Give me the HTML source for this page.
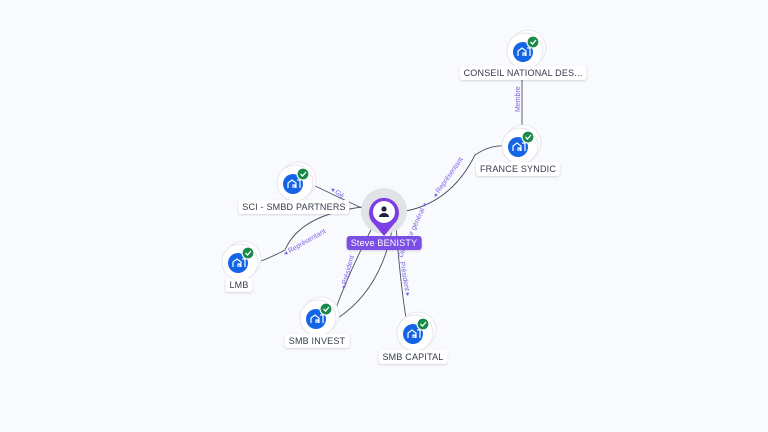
<!DOCTYPE html>
<html><head><meta charset="utf-8"><style>
body{margin:0;width:768px;height:432px;background:#f8fafd;overflow:hidden;font-family:"Liberation Sans",sans-serif}
.lbl{position:absolute;background:#fff;color:#333a4a;font-size:9px;padding:2px 4px;border-radius:3px;box-shadow:0 1px 2px rgba(0,0,0,.15);transform:translateX(-50%);white-space:nowrap;letter-spacing:.2px}
</style></head><body>
<svg width="768" height="432" style="position:absolute;left:0;top:0">
<defs>
<g id="n">
<circle cx="3" cy="-3" r="18" fill="#fff" stroke="#e6e8ee"/>
<circle cx="0" cy="0" r="18" fill="#fff" stroke="#e3e5ea"/>
<circle cx="-2" cy="1" r="10" fill="#1464e6"/>
<path d="M-7 5 v-5 l4-3 4 3 v5 M-2 5 v-3 h2 v3 M2 -3 h3 v8" fill="none" stroke="#fff" stroke-width="1.2"/>
<circle cx="8" cy="-9" r="6" fill="#1a8a4a" stroke="#fff" stroke-width="1.2"/>
<path d="M5.5 -9 l2 2 3.5-4" fill="none" stroke="#fff" stroke-width="1.3"/>
</g>
</defs>
<g fill="none" stroke="#4b4f63" stroke-width="0.9">
<path d="M522 70 V126"/>
<path d="M400 212 Q450 205 475 155 Q490 145 503 146"/>
<path d="M366 210 Q340 198 313 185"/>
<path d="M362 207 Q300 215 285 250 Q270 258 258 262"/>
<path d="M374 224 Q350 270 336 308"/>
<path d="M392 230 Q380 290 338 318"/>
<path d="M396 226 Q400 280 406 318"/>
</g>
<g font-size="7" fill="#7b63e6" font-family="Liberation Sans,sans-serif">
<text transform="translate(520,112) rotate(-90)">Membre</text>
<text transform="translate(436,198) rotate(-55)">◂ Représentant</text>
<text transform="translate(285,256) rotate(-30)">◂ Représentant</text>
<text transform="translate(345,290) rotate(-75)">◂ Président</text>
<text transform="translate(400,262) rotate(80)">Président ▸</text>
<text transform="translate(402,258) rotate(-65)">Directeur général ◂</text>
<text transform="translate(330,190) rotate(35)">◂ Gé</text>
</g>
<use href="#n" x="525" y="51"/>
<use href="#n" x="520" y="146"/>
<use href="#n" x="295" y="183"/>
<use href="#n" x="240" y="262"/>
<use href="#n" x="318" y="318"/>
<use href="#n" x="415" y="333"/>
<circle cx="384" cy="211" r="23" fill="#e2e3e7"/>
<path d="M384 236 L374 224 A15 15 0 1 1 394 224 Z" fill="#7b3fe4"/>
<circle cx="384" cy="212" r="11" fill="#fff"/>
<circle cx="384" cy="209" r="2.6" fill="#1c2340"/>
<path d="M379 217 a5 4 0 0 1 10 0 z" fill="#1c2340"/>
</svg>
<div class="lbl" style="left:523px;top:66px">CONSEIL NATIONAL DES...</div>
<div class="lbl" style="left:518px;top:162px">FRANCE SYNDIC</div>
<div class="lbl" style="left:294px;top:200px">SCI - SMBD PARTNERS</div>
<div class="lbl" style="left:239px;top:278px">LMB</div>
<div class="lbl" style="left:317px;top:334px">SMB INVEST</div>
<div class="lbl" style="left:413px;top:350px">SMB CAPITAL</div>
<div class="lbl" style="left:384px;top:236px;background:#7b4fe6;color:#fff">Steve BENISTY</div>
</body></html>
